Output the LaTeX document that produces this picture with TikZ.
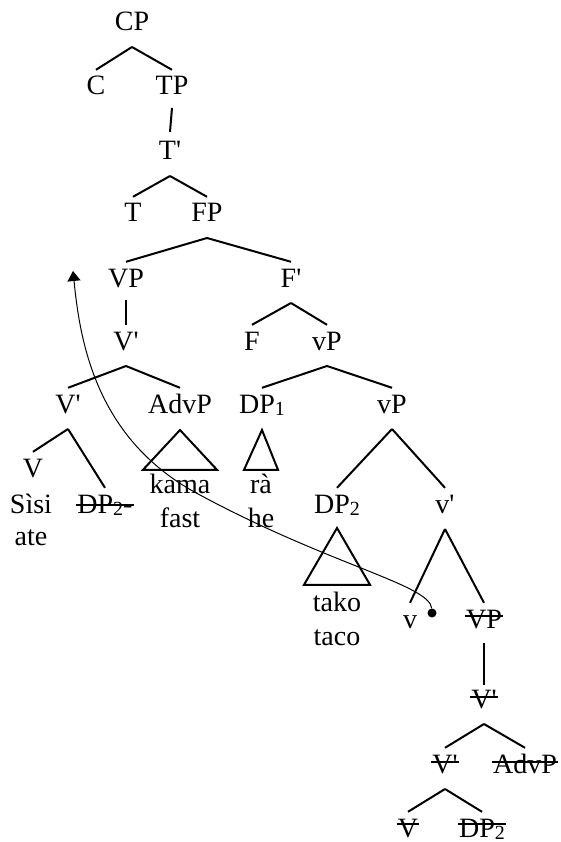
\documentclass[tikz,border=0pt]{standalone}
\usepackage{fontspec}
\setmainfont{Liberation Serif}[Ligatures=TeXOff]
\usetikzlibrary{arrows.meta}
\newcommand\subsc[1]{{\fontsize{20}{20}\selectfont\raisebox{-2pt}{#1}}}
\newcommand\treeedge[2]{\draw[br] ([yshift=-16pt]#1.base) -- ([yshift=5pt]#2.north);}
\newcommand\strikeout[2]{\draw[strk] ([xshift=-1pt,yshift=#2]#1.base west) -- ([xshift=1pt,yshift=#2]#1.base east);}
\begin{document}
\begin{tikzpicture}[x=1pt,y=-1pt,
  lab/.style={inner sep=0pt, anchor=base, text height=20pt, text depth=0pt, font=\fontsize{28}{33}\selectfont},
  br/.style={line width=2pt},
  strk/.style={line width=1.4pt},
  mv/.style={line width=1pt, -{Triangle[length=10pt,width=13pt]}}]
\useasboundingbox (0,0) rectangle (561,842);
% labels
\node[lab] (CP) at (132,31) {CP};
\node[lab] (C) at (96,95) {C};
\node[lab] (TP) at (172,95) {TP};
\node[lab] (Tbar) at (170,160) {T'};
\node[lab] (T) at (133,222) {T};
\node[lab] (FP) at (207,222) {FP};
\node[lab] (VP) at (126,287) {VP};
\node[lab] (Fbar) at (291,287) {F'};
\node[lab] (Vbar) at (126,350) {V'};
\node[lab] (F) at (252,350) {F};
\node[lab] (vP) at (327,350) {vP};
\node[lab] (Vbarb) at (68,413) {V'};
\node[lab] (AdvP) at (180,413) {AdvP};
\node[lab] (DPa) at (262,413) {DP\subsc{1}};
\node[lab] (vPb) at (392,413) {vP};
\node[lab] (V) at (33,477) {V};
\node[lab] (sisi) at (31,513) {Sìsi};
\node[lab] (ate) at (31,545) {ate};
\node[lab] (DPb) at (105,513) {DP\subsc{2}-};
\node[lab] (kama) at (180,493) {kama};
\node[lab] (fast) at (180,527) {fast};
\node[lab] (ra) at (261,493) {rà};
\node[lab] (he) at (261,527) {he};
\node[lab] (DPc) at (337,513) {DP\subsc{2}};
\node[lab] (vbar) at (445,513) {v'};
\node[lab] (tako) at (337,611) {tako};
\node[lab] (taco) at (337,645) {taco};
\node[lab] (v) at (410,628) {v};
\node[lab] (sVP) at (484,628) {VP};
\node[lab] (sVbar) at (484,708) {V'};
\node[lab] (sVbarb) at (445,773) {V'};
\node[lab] (sAdvP) at (525,773) {AdvP};
\node[lab] (sV) at (408,837) {V};
\node[lab] (sDP) at (482,837) {DP\subsc{2}};
% branches
\treeedge{CP}{C}
\treeedge{CP}{TP}
\draw[br] ([yshift=-13pt]TP.base) -- ([yshift=8pt]Tbar.north);
\treeedge{Tbar}{T}
\treeedge{Tbar}{FP}
\treeedge{FP}{VP}
\treeedge{FP}{Fbar}
\draw[br] ([yshift=-13pt]VP.base) -- ([yshift=5pt]Vbar.north);
\treeedge{Fbar}{F}
\treeedge{Fbar}{vP}
\treeedge{Vbar}{Vbarb}
\treeedge{Vbar}{AdvP}
\treeedge{vP}{DPa}
\treeedge{vP}{vPb}
\treeedge{Vbarb}{V}
\treeedge{Vbarb}{DPb}
\treeedge{vPb}{DPc}
\treeedge{vPb}{vbar}
\treeedge{vbar}{v}
\treeedge{vbar}{sVP}
\draw[br] ([yshift=-15pt]sVP.base) -- ([yshift=3pt]sVbar.north);
\treeedge{sVbar}{sVbarb}
\treeedge{sVbar}{sAdvP}
\treeedge{sVbarb}{sV}
\treeedge{sVbarb}{sDP}
% triangles
\draw[br,line join=miter] ([yshift=-17pt]AdvP.base) -- ([xshift=-37pt,yshift=3pt]kama.north) -- ([xshift=37pt,yshift=3pt]kama.north) -- cycle;
\draw[br,line join=miter] ([yshift=-17pt]DPa.base) -- ([xshift=-17pt,yshift=3pt]ra.north) -- ([xshift=17pt,yshift=3pt]ra.north) -- cycle;
\draw[br,line join=miter] ([yshift=-15pt]DPc.base) -- ([xshift=-33pt,yshift=6pt]tako.north) -- ([xshift=33pt,yshift=6pt]tako.north) -- cycle;
% strike-outs
\strikeout{DPb}{8pt}
\strikeout{sVP}{12pt}
\strikeout{sVbar}{11pt}
\strikeout{sVbarb}{11pt}
\strikeout{sAdvP}{11pt}
\strikeout{sV}{13pt}
\strikeout{sDP}{13pt}
% movement arrow
\node[circle,fill,inner sep=0pt,minimum size=9pt] (dot) at (432,613) {};
\coordinate (tip) at (73,271);
\draw[mv] (dot) .. controls (430,585) and (330,565) .. (200,495) .. controls (95,440) and (80,340) .. (tip);
\end{tikzpicture}
\end{document}
